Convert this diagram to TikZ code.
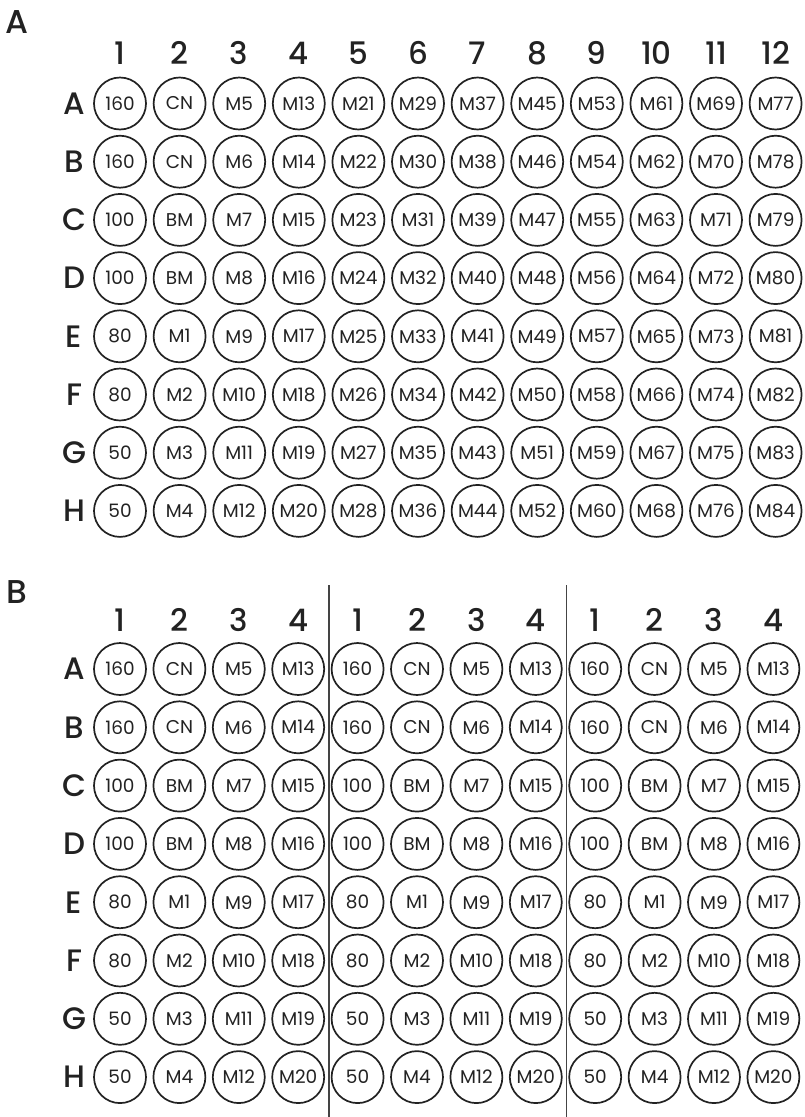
\documentclass[tikz,border=0pt]{standalone}
\usepackage{fontspec}
\setmainfont{Poppins}
\newfontfamily\headfont{Poppins Medium}
\definecolor{ink}{HTML}{222222}
\definecolor{rule}{HTML}{444444}

\begin{document}
\begin{tikzpicture}[
    x=1pt, y=-1pt,
    well/.style={circle,draw=ink,line width=1.7pt,minimum size=52pt,inner sep=0pt,
      text=ink,font=\fontsize{18.5}{18.5}\selectfont},
    head/.style={text=ink,font=\headfont\fontsize{31}{31}\selectfont},
    panel/.style={text=ink,font=\headfont\fontsize{33}{33}\selectfont}
  ]
  \useasboundingbox (0,0) rectangle (804,1117);

  % panel A: full plate
  \node (labA) [panel] at (17,22) {A};
  \foreach \c in {1,...,12}
    \node (a-col\c) [head] at ({120+(\c-1)*59.6},53) {\c};
  \foreach \r/\conc/\ctl [count=\i] in {A/160/CN,B/160/CN,C/100/BM,D/100/BM,
      E/80/M1,F/80/M2,G/50/M3,H/50/M4} {
    \node (a-row\r) [head] at (74,{103.5+(\i-1)*58.2}) {\r};
    \node (a-\r1) [well] at (120,{103.5+(\i-1)*58.2}) {\conc};
    \node (a-\r2) [well] at (179.6,{103.5+(\i-1)*58.2}) {\ctl};
    \foreach \c in {3,...,12} {
      \pgfmathtruncatemacro\m{(\c-3)*8+\i+4}
      \node (a-\r\c) [well] at ({120+(\c-1)*59.6},{103.5+(\i-1)*58.2}) {M\m};
    }
  }

  % panel B: three copies of columns 1-4
  \node (labB) [panel] at (17,592) {B};
  \foreach \g in {0,1,2} {
    \foreach \c in {1,...,4}
      \node (b\g-col\c) [head] at ({120+(4*\g+\c-1)*59.4},620) {\c};
    \foreach \r/\conc/\ctl [count=\i] in {A/160/CN,B/160/CN,C/100/BM,D/100/BM,
        E/80/M1,F/80/M2,G/50/M3,H/50/M4} {
      \node (b\g-\r1) [well] at ({120+(4*\g)*59.4},{669+(\i-1)*58.3}) {\conc};
      \node (b\g-\r2) [well] at ({120+(4*\g+1)*59.4},{669+(\i-1)*58.3}) {\ctl};
      \foreach \c in {3,4} {
        \pgfmathtruncatemacro\m{(\c-3)*8+\i+4}
        \node (b\g-\r\c) [well] at ({120+(4*\g+\c-1)*59.4},{669+(\i-1)*58.3}) {M\m};
      }
    }
  }
  \foreach \r [count=\i] in {A,B,C,D,E,F,G,H}
    \node (b-row\r) [head] at (74,{669+(\i-1)*58.3}) {\r};

  % separators between the copies
  \coordinate (sep1top) at (328.9,585);
  \coordinate (sep1bot) at (328.9,1117);
  \coordinate (sep2top) at (566.5,585);
  \coordinate (sep2bot) at (566.5,1117);
  \draw[rule,line width=1.2pt] (sep1top) -- (sep1bot);
  \draw[rule,line width=1.2pt] (sep2top) -- (sep2bot);
\end{tikzpicture}
\end{document}
